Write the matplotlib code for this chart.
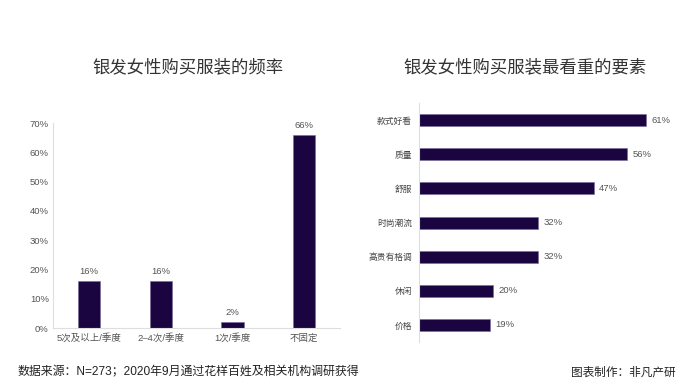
import matplotlib
matplotlib.use("Agg")
import matplotlib.pyplot as plt

plt.rcParams['font.family'] = ['Liberation Sans', 'Noto Sans CJK SC', 'DejaVu Sans']

freq_labels = ['5次及以上/季度', '2–4次/季度', '1次/季度', '不固定']
freq_values = [16, 16, 2, 66]

factor_labels = ['款式好看', '质量', '舒服', '时尚潮流', '高贵有格调', '休闲', '价格']
factor_values = [61, 56, 47, 32, 32, 20, 19]

bar_color = '#1a0540'
edge_color = '#7a6a9a'
axis_color = '#dedede'
tick_color = '#555555'
cjk = ['Noto Sans CJK SC', 'DejaVu Sans']

fig = plt.figure(figsize=(6.92, 3.89), dpi=100)

# left: purchase frequency
ax1 = fig.add_axes([0.0766, 0.1568, 0.4148, 0.527])
x = range(len(freq_labels))
ax1.bar(x, freq_values, width=0.31, color=bar_color, edgecolor=edge_color, linewidth=0.4)
for i, v in zip(x, freq_values):
    ax1.annotate(f'{v}%', (i, v), xytext=(0, 3.5), textcoords='offset points',
                 ha='center', va='bottom', fontsize=6.8, color=tick_color)
ax1.set_xlim(-0.5, 3.5)
ax1.set_ylim(0, 70)
ax1.set_yticks(range(0, 71, 10))
ax1.set_yticklabels([f'{t}%' for t in range(0, 71, 10)])
ax1.set_xticks(list(x))
ax1.set_xticklabels(freq_labels)
ax1.tick_params(axis='both', length=0, labelsize=6.8, labelcolor=tick_color)
ax1.tick_params(axis='y', pad=3)
ax1.tick_params(axis='x', pad=4)
for s in ['top', 'right']:
    ax1.spines[s].set_visible(False)
for s in ['left', 'bottom']:
    ax1.spines[s].set_color(axis_color)
    ax1.spines[s].set_linewidth(0.8)

# right: most valued factors
ax2 = fig.add_axes([0.6055, 0.1208, 0.349, 0.6142])
y = range(len(factor_labels))
ax2.barh(y, factor_values, height=0.35, color=bar_color, edgecolor=edge_color, linewidth=0.4)
for i, v in zip(y, factor_values):
    ax2.annotate(f'{v}%', (v, i), xytext=(4, 0), textcoords='offset points',
                 ha='left', va='center', fontsize=6.8, color=tick_color)
ax2.set_xlim(0, 65)
ax2.set_ylim(6.5, -0.5)
ax2.set_yticks(list(y))
ax2.set_yticklabels(factor_labels, family=cjk)
ax2.set_xticks([])
ax2.tick_params(axis='y', length=0, labelsize=6.3, labelcolor='#444444', pad=5)
for s in ['top', 'right', 'bottom']:
    ax2.spines[s].set_visible(False)
ax2.spines['left'].set_color(axis_color)
ax2.spines['left'].set_linewidth(0.8)

# titles and notes
fig.text(188 / 692, 1 - 67 / 389, '银发女性购买服装的频率', ha='center', va='center',
         fontsize=12.5, color='#333333', family=cjk)
fig.text(525 / 692, 1 - 67 / 389, '银发女性购买服装最看重的要素', ha='center', va='center',
         fontsize=12.5, color='#333333', family=cjk)
fig.text(18 / 692, 1 - 372 / 389, '数据来源：N=273；2020年9月通过花样百姓及相关机构调研获得',
         ha='left', va='center', fontsize=8.6, color='#222222')
fig.text(676 / 692, 1 - 372 / 389, '图表制作：非凡产研', ha='right', va='center',
         fontsize=8.4, color='#222222', family=cjk)

fig.savefig('out.png', dpi=100)
